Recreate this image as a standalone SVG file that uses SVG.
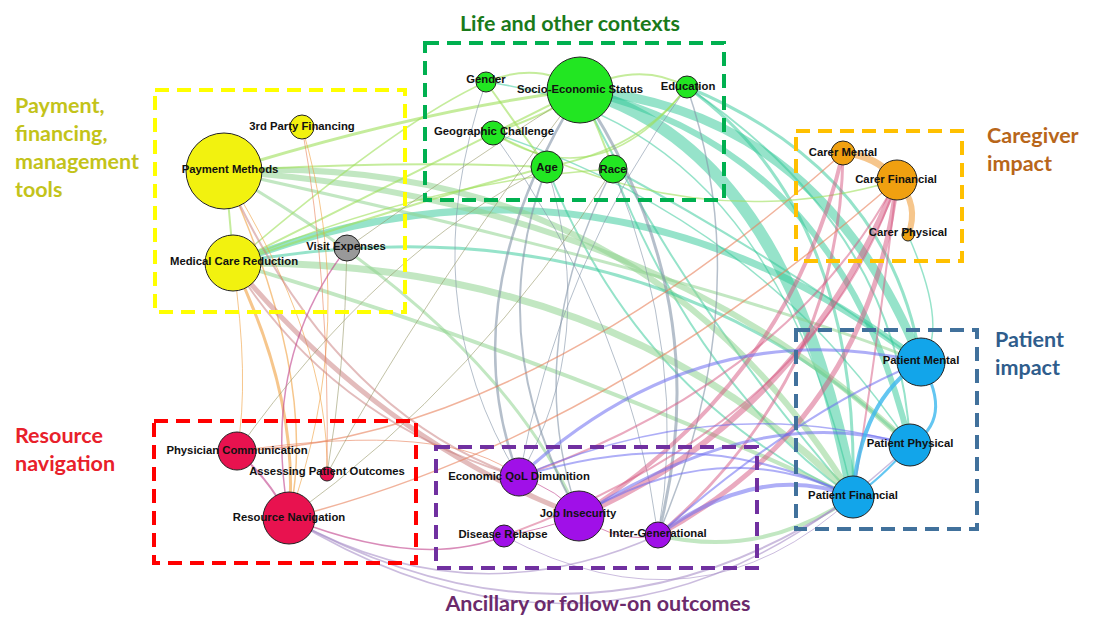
<svg xmlns="http://www.w3.org/2000/svg" width="1094" height="618" viewBox="0 0 1094 618">
<style>
.t{font-family:Lato,"Open Sans","Liberation Sans",sans-serif;font-weight:bold;font-size:21.5px}
.lb{font-family:"Liberation Sans",Arial,sans-serif;font-weight:bold;font-size:11.3px;fill:#111;text-anchor:middle}
.n{stroke:#222;stroke-width:1}
.box{fill:none;stroke-width:4;stroke-dasharray:14 8}
.e{fill:none;stroke-linecap:round}
.teal{stroke:#2ec896;opacity:.5}
.lg{stroke:#8fd48f;opacity:.55}
.yg{stroke:#9ee05a;opacity:.6}
.gb{stroke:#8494a8;opacity:.6}
.pk{stroke:#d5557f;opacity:.5}
.bp{stroke:#6c6cf0;opacity:.55}
.lbl{stroke:#3cb8ee;opacity:.8}
.or{stroke:#f0a040;opacity:.6}
.br{stroke:#c87a7a;opacity:.5}
.ol{stroke:#9a9a6a;opacity:.6}
.lv{stroke:#a890c8;opacity:.6}
.mg{stroke:#c0408a;opacity:.6}
.ro{stroke:#e8805a;opacity:.6}
</style>
<rect width="1094" height="618" fill="#fff"/>
<g id="connectors">
<path class="e teal" stroke-width="12" d="M580,90 Q790,150 853,497"/>
<path class="e teal" stroke-width="9" d="M580,90 Q820,110 921,362"/>
<path class="e teal" stroke-width="6" d="M580,90 Q840,150 910,445"/>
<path class="e teal" stroke-width="3" d="M687,87 Q890,170 921,362"/>
<path class="e teal" stroke-width="3" d="M687,87 Q860,210 853,497"/>
<path class="e teal" stroke-width="2" d="M687,87 Q900,230 910,445"/>
<path class="e teal" stroke-width="2" d="M613,169 Q700,390 853,497"/>
<path class="e teal" stroke-width="2" d="M613,169 Q780,260 921,362"/>
<path class="e teal" stroke-width="2" d="M547,167 Q640,400 853,497"/>
<path class="e teal" stroke-width="1.5" d="M486,82 Q770,120 853,497"/>
<path class="e teal" stroke-width="1.5" d="M493,133 Q760,220 910,445"/>
<path class="e teal" stroke-width="2" d="M580,90 Q680,300 853,497"/>
<path class="e teal" stroke-width="7" d="M233,263 Q600,120 921,362"/>
<path class="e lg" stroke-width="6" d="M224,171 Q640,150 853,497"/>
<path class="e teal" stroke-width="3" d="M233,263 Q640,190 910,445"/>
<path class="e lg" stroke-width="7" d="M233,263 Q620,260 853,497"/>
<path class="e lg" stroke-width="6" d="M224,171 Q650,200 910,445"/>
<path class="e lg" stroke-width="4" d="M233,263 Q560,360 853,497"/>
<path class="e lg" stroke-width="3" d="M224,171 Q500,330 579,516"/>
<path class="e lg" stroke-width="4" d="M658,535 Q760,560 853,497"/>
<path class="e lg" stroke-width="3" d="M224,171 Q720,280 921,362"/>
<path class="e yg" stroke-width="3" d="M224,171 Q420,110 580,90"/>
<path class="e yg" stroke-width="2" d="M233,263 Q420,170 580,90"/>
<path class="e yg" stroke-width="2" d="M224,171 Q400,160 547,167"/>
<path class="e yg" stroke-width="2" d="M233,263 Q420,200 547,167"/>
<path class="e yg" stroke-width="1.5" d="M233,263 Q400,120 486,82"/>
<path class="e yg" stroke-width="1.5" d="M233,263 Q430,180 613,169"/>
<path class="e yg" stroke-width="1.5" d="M493,133 Q700,240 897,180"/>
<path class="e yg" stroke-width="2" d="M233,263 Q230,210 224,171"/>
<path class="e yg" stroke-width="2" d="M486,82 Q540,60 580,90"/>
<path class="e yg" stroke-width="2" d="M547,167 Q640,150 687,87"/>
<path class="e yg" stroke-width="2" d="M493,133 Q560,110 580,90"/>
<path class="e yg" stroke-width="2" d="M486,82 Q520,130 547,167"/>
<path class="e yg" stroke-width="2" d="M580,90 Q600,130 613,169"/>
<path class="e yg" stroke-width="1.5" d="M493,133 Q600,200 687,87"/>
<path class="e yg" stroke-width="2" d="M580,90 Q640,60 687,87"/>
<path class="e gb" stroke-width="2.5" d="M580,90 Q450,300 519,477"/>
<path class="e gb" stroke-width="2" d="M547,167 Q480,340 579,516"/>
<path class="e gb" stroke-width="3" d="M580,90 Q720,300 658,535"/>
<path class="e gb" stroke-width="1.5" d="M613,169 Q520,350 579,516"/>
<path class="e gb" stroke-width="1.5" d="M687,87 Q760,300 658,535"/>
<path class="e gb" stroke-width="1" d="M486,82 Q410,300 519,477"/>
<path class="e gb" stroke-width="1" d="M493,133 Q630,320 658,535"/>
<path class="e gb" stroke-width="1" d="M547,167 Q600,340 519,477"/>
<path class="e gb" stroke-width="1" d="M613,169 Q690,360 658,535"/>
<path class="e gb" stroke-width="1" d="M687,87 Q560,260 519,477"/>
<path class="e pk" stroke-width="6" d="M579,516 Q800,420 897,180"/>
<path class="e pk" stroke-width="5" d="M658,535 Q870,420 897,180"/>
<path class="e pk" stroke-width="4" d="M579,516 Q790,380 843,153"/>
<path class="e pk" stroke-width="2" d="M519,477 Q790,380 897,180"/>
<path class="e pk" stroke-width="3" d="M658,535 Q840,380 843,153"/>
<path class="e pk" stroke-width="2" d="M504,536 Q820,420 897,180"/>
<path class="e pk" stroke-width="2" d="M853,497 Q880,330 897,180"/>
<path class="e bp" stroke-width="3" d="M519,477 Q700,310 921,362"/>
<path class="e bp" stroke-width="3" d="M579,516 Q760,400 910,445"/>
<path class="e bp" stroke-width="4" d="M658,535 Q760,460 853,497"/>
<path class="e bp" stroke-width="2" d="M579,516 Q720,430 853,497"/>
<path class="e bp" stroke-width="2" d="M519,477 Q700,420 853,497"/>
<path class="e bp" stroke-width="2" d="M658,535 Q800,410 921,362"/>
<path class="e bp" stroke-width="1.5" d="M519,477 Q720,390 910,445"/>
<path class="e lbl" stroke-width="4" d="M921,362 Q860,400 853,497"/>
<path class="e lbl" stroke-width="3" d="M921,362 Q955,420 910,445"/>
<path class="e lbl" stroke-width="2" d="M910,445 Q880,480 853,497"/>
<path class="e or" stroke-width="7" d="M843,153 Q875,155 897,180"/>
<path class="e or" stroke-width="6" d="M897,180 Q920,205 908,235"/>
<path class="e teal" stroke-width="1.5" d="M908,235 Q950,330 921,362"/>
<path class="e or" stroke-width="3" d="M233,263 Q300,400 289,518"/>
<path class="e or" stroke-width="1.5" d="M224,171 Q320,380 289,518"/>
<path class="e or" stroke-width="1" d="M302,127 Q360,320 289,518"/>
<path class="e or" stroke-width="1" d="M233,263 Q250,380 237,451"/>
<path class="e or" stroke-width="1" d="M224,171 Q330,340 327,474"/>
<path class="e br" stroke-width="5" d="M233,263 Q380,440 579,516"/>
<path class="e br" stroke-width="2" d="M224,171 Q330,410 519,477"/>
<path class="e br" stroke-width="2" d="M233,263 Q330,420 519,477"/>
<path class="e mg" stroke-width="1.5" d="M347,248 Q260,360 289,518"/>
<path class="e mg" stroke-width="2" d="M237,451 Q270,480 289,518"/>
<path class="e mg" stroke-width="1.5" d="M289,518 Q420,570 504,536"/>
<path class="e mg" stroke-width="1" d="M519,477 Q560,490 579,516"/>
<path class="e mg" stroke-width="1" d="M579,516 Q620,545 658,535"/>
<path class="e mg" stroke-width="1" d="M504,536 Q540,530 579,516"/>
<path class="e ro" stroke-width="1.5" d="M237,451 Q520,440 843,153"/>
<path class="e ro" stroke-width="1.5" d="M289,518 Q600,440 897,180"/>
<path class="e ro" stroke-width="1" d="M237,451 Q450,420 519,477"/>
<path class="e ro" stroke-width="1" d="M302,127 Q330,280 327,474"/>
<path class="e ol" stroke-width="1" d="M347,248 Q470,160 580,90"/>
<path class="e ol" stroke-width="1" d="M237,451 Q380,250 547,167"/>
<path class="e ol" stroke-width="1" d="M327,474 Q420,300 580,90"/>
<path class="e ol" stroke-width="1" d="M289,518 Q480,380 613,169"/>
<path class="e ol" stroke-width="1" d="M347,248 Q345,370 327,474"/>
<path class="e lv" stroke-width="2" d="M289,518 Q580,680 853,497"/>
<path class="e lv" stroke-width="1.5" d="M289,518 Q620,720 910,445"/>
<path class="e lv" stroke-width="1.5" d="M289,518 Q470,620 658,535"/>
<path class="e lv" stroke-width="1" d="M504,536 Q700,640 853,497"/>
</g>
<g id="boxes">
<rect class="box" x="155" y="90" width="250" height="222" stroke="#ffff00"/>
<rect class="box" x="425" y="43" width="299" height="157" stroke="#00b050"/>
<rect class="box" x="796" y="131" width="166" height="130" stroke="#ffc000"/>
<rect class="box" x="796" y="330" width="181" height="199" stroke="#41719c"/>
<rect class="box" x="154" y="421" width="262" height="142" stroke="#ff0000"/>
<rect class="box" x="436" y="447" width="321" height="121" stroke="#7030a0"/>
</g>
<g id="titles" class="t">
<text x="570" y="31" text-anchor="middle" fill="#1a7a1a">Life and other contexts</text>
<text x="15" y="113" fill="#c3c31a"><tspan x="15">Payment,</tspan><tspan x="15" y="141">financing,</tspan><tspan x="15" y="169">management</tspan><tspan x="15" y="197">tools</tspan></text>
<text x="987" y="143" fill="#b8661a"><tspan x="987">Caregiver</tspan><tspan x="987" y="171">impact</tspan></text>
<text x="995" y="347" fill="#2f5d8c"><tspan x="995">Patient</tspan><tspan x="995" y="375">impact</tspan></text>
<text x="15" y="443" fill="#e8202a"><tspan x="15">Resource</tspan><tspan x="15" y="471">navigation</tspan></text>
<text x="598" y="611" text-anchor="middle" fill="#6b2a6b">Ancillary or follow-on outcomes</text>
</g>
<g id="n-payment-methods"><circle class="n" cx="224" cy="171" r="38" fill="#f2f20f"/><text class="lb" x="230" y="173">Payment Methods</text></g>
<g id="n-3rd-party"><circle class="n" cx="302" cy="127" r="12" fill="#f2f20f"/><text class="lb" x="302" y="130">3rd Party Financing</text></g>
<g id="n-medical-care"><circle class="n" cx="233" cy="263" r="28" fill="#f2f20f"/><text class="lb" x="234" y="265">Medical Care Reduction</text></g>
<g id="n-visit-expenses"><circle class="n" cx="347" cy="248" r="13" fill="#999"/><text class="lb" x="346" y="250">Visit Expenses</text></g>
<g id="n-gender"><circle class="n" cx="486" cy="82" r="10" fill="#22e622"/><text class="lb" x="486" y="83">Gender</text></g>
<g id="n-ses"><circle class="n" cx="580" cy="90" r="33" fill="#22e622"/><text class="lb" x="580" y="93">Socio-Economic Status</text></g>
<g id="n-education"><circle class="n" cx="687" cy="87" r="11" fill="#22e622"/><text class="lb" x="688" y="90">Education</text></g>
<g id="n-geographic"><circle class="n" cx="493" cy="133" r="12" fill="#22e622"/><text class="lb" x="494" y="135">Geographic Challenge</text></g>
<g id="n-age"><circle class="n" cx="547" cy="167" r="16" fill="#22e622"/><text class="lb" x="547" y="171">Age</text></g>
<g id="n-race"><circle class="n" cx="613" cy="169" r="14" fill="#22e622"/><text class="lb" x="613" y="173">Race</text></g>
<g id="n-carer-mental"><circle class="n" cx="843" cy="153" r="12" fill="#f0a010"/><text class="lb" x="843" y="156">Carer Mental</text></g>
<g id="n-carer-financial"><circle class="n" cx="897" cy="180" r="20" fill="#f0a010"/><text class="lb" x="896" y="183">Carer Financial</text></g>
<g id="n-carer-physical"><circle class="n" cx="908" cy="235" r="6" fill="#f0a010"/><text class="lb" x="908" y="236">Carer Physical</text></g>
<g id="n-patient-mental"><circle class="n" cx="921" cy="362" r="24" fill="#12a5ea"/><text class="lb" x="921" y="364">Patient Mental</text></g>
<g id="n-patient-physical"><circle class="n" cx="910" cy="445" r="21" fill="#12a5ea"/><text class="lb" x="910" y="447">Patient Physical</text></g>
<g id="n-patient-financial"><circle class="n" cx="853" cy="497" r="21" fill="#12a5ea"/><text class="lb" x="853" y="499">Patient Financial</text></g>
<g id="n-physician"><circle class="n" cx="237" cy="451" r="19" fill="#e8124f"/><text class="lb" x="237" y="454">Physician Communication</text></g>
<g id="n-assessing"><circle class="n" cx="327" cy="474" r="7" fill="#e8124f"/><text class="lb" x="327" y="475">Assessing Patient Outcomes</text></g>
<g id="n-resource-nav"><circle class="n" cx="289" cy="518" r="26" fill="#e8124f"/><text class="lb" x="289" y="521">Resource Navigation</text></g>
<g id="n-economic-qol"><circle class="n" cx="519" cy="477" r="19" fill="#a010e8"/><text class="lb" x="519" y="480">Economic QoL Dimunition</text></g>
<g id="n-job-insecurity"><circle class="n" cx="579" cy="516" r="25" fill="#a010e8"/><text class="lb" x="578" y="517">Job Insecurity</text></g>
<g id="n-disease-relapse"><circle class="n" cx="504" cy="536" r="11" fill="#a010e8"/><text class="lb" x="503" y="538">Disease Relapse</text></g>
<g id="n-intergen"><circle class="n" cx="658" cy="535" r="13" fill="#a010e8"/><text class="lb" x="658" y="537">Inter-Generational</text></g>
</svg>
